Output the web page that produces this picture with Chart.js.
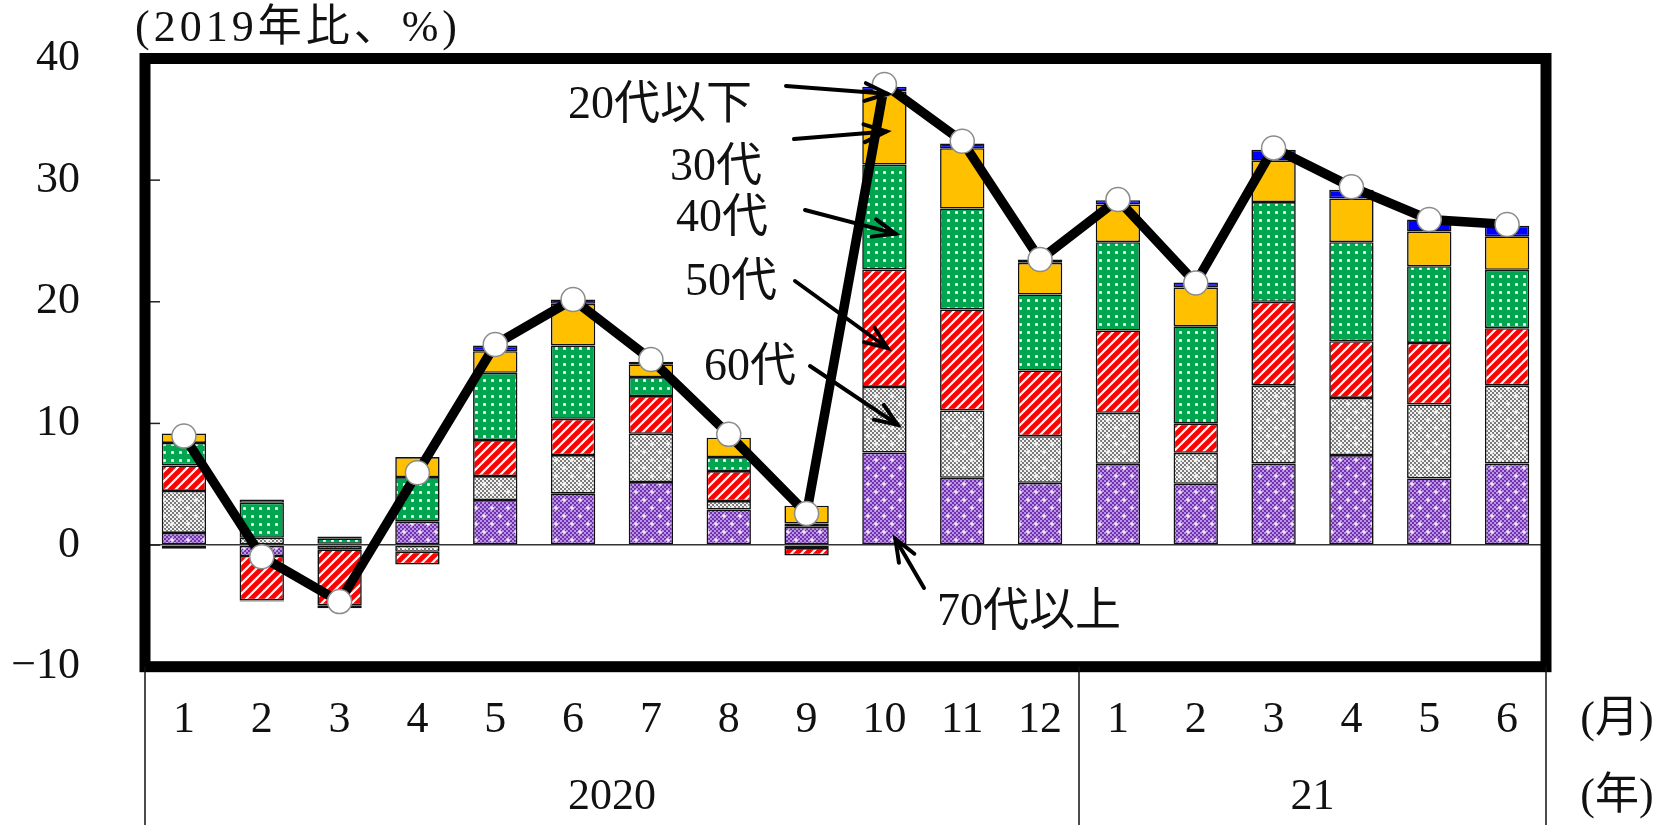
<!DOCTYPE html>
<html><head><meta charset="utf-8">
<script src="https://cdn.jsdelivr.net/npm/chart.js@4/dist/chart.umd.min.js"></script>
<style>html,body{margin:0;padding:0;background:#fff;}#wrap{width:1665px;height:825px;position:relative;}</style>
</head><body><div id="wrap"><canvas id="c" width="1665" height="825"></canvas></div>
<script>
// ---- data ----
const months = ['1','2','3','4','5','6','7','8','9','10','11','12','1','2','3','4','5','6'];
const yearLabels = ['2020','21'];
const yearStarts = [0, 12];
const yearEnds = [11, 17];
const seriesNames = ['70代以上','60代','50代','40代','30代','20代以下'];
const age70 = [1.0, -0.9, 0.1, 1.92, 3.7, 4.25, 5.18, 2.93, 1.5, 7.6, 5.53, 5.12, 6.68, 5.04, 6.7, 7.4, 5.48, 6.7];
const age60 = [3.45, 0.6, -0.35, -0.55, 1.97, 3.15, 3.97, 0.69, -0.25, 5.4, 5.54, 3.83, 4.19, 2.54, 6.4, 4.7, 6.08, 6.43];
const age50 = [2.1, -3.65, -4.6, -1.04, 2.96, 2.98, 3.1, 2.46, -0.6, 9.65, 8.3, 5.4, 6.77, 2.4, 6.9, 4.66, 5.06, 4.7];
const age40 = [1.85, 2.88, 0.45, 3.67, 5.53, 6.03, 1.56, 1.15, 0.27, 8.63, 8.3, 6.25, 7.26, 8.0, 8.2, 8.14, 6.3, 4.8];
const age30 = [0.78, 0.27, -0.25, 1.64, 1.78, 3.42, 1.05, 1.59, 1.46, 6.0, 4.95, 2.6, 3.1, 3.2, 3.4, 3.6, 2.85, 2.75];
const age20 = [-0.3, -0.1, 0.15, 0, 0.46, 0.36, 0.2, 0, 0, 0.4, 0.4, 0.27, 0.35, 0.4, 0.9, 0.7, 1.0, 0.87];
const total = [8.96, -0.96, -4.65, 5.94, 16.49, 20.19, 15.26, 9.1, 2.6, 37.86, 33.2, 23.47, 28.4, 21.55, 32.65, 29.45, 26.76, 26.35];
const yMin = -10, yMax = 40, yStep = 10;
const unitLabel = '(2019年比、%)';
const monthUnit = '(月)';
const yearUnit = '(年)';
// annotations: label, arrow tip at (category index, value)
const noteLabels = ['20代以下','30代','40代','50代','60代','70代以上'];
const noteCategory = [9, 9, 9, 9, 9, 9];
const noteTipValue = [37.1, 34.0, 25.6, 16.2, 9.9, 0.5];

// ---- styling ----
const FONT = '"Liberation Serif", "Noto Sans CJK JP", serif';
const canvas = document.getElementById('c');
const mainCtx = canvas.getContext('2d');
function tile(w, h, draw) {
  const c = document.createElement('canvas'); c.width = w; c.height = h;
  const g = c.getContext('2d'); draw(g, w, h);
  return mainCtx.createPattern(c, 'repeat');
}
function starTile(bg, dot) {
  return tile(16, 16, (g) => {
    g.fillStyle = bg; g.fillRect(0, 0, 16, 16);
    g.fillStyle = dot;
    for (let y = 0; y < 16; y += 2) for (let x = (y % 4 === 0 ? 0 : 2); x < 16; x += 4) g.fillRect(x, y, 2, 2);
    g.fillStyle = '#fff';
    [[4, 4], [12, 12]].forEach(([cx, cy]) => { g.fillRect(cx - 2.5, cy - 0.6, 5, 1.2); g.fillRect(cx - 0.6, cy - 2.5, 1.2, 5); });
  });
}
const purplePat = starTile('#7330AE', '#B994E3');
const grayPat = starTile('#f2f2f2', '#7a7a7a');
const redPat = tile(10, 10, (g) => {
  g.fillStyle = '#fff'; g.fillRect(0, 0, 10, 10);
  g.strokeStyle = '#ff0000'; g.lineWidth = 4.8;
  [[-5, 5, 5, -5], [0, 10, 10, 0], [5, 15, 15, 5]].forEach(([a, b, c, d]) => { g.beginPath(); g.moveTo(a, b); g.lineTo(c, d); g.stroke(); });
});
const greenPat = tile(8, 8, (g) => {
  g.fillStyle = '#00A550'; g.fillRect(0, 0, 8, 8);
  g.fillStyle = '#9fe0b8'; g.fillRect(3, 3, 3, 3);
  g.fillStyle = '#ffffff'; g.fillRect(3.5, 3.5, 2, 2);
});
const fills = [purplePat, grayPat, redPat, greenPat, '#FFC000', '#0000FF'];
const seriesData = [age70, age60, age50, age40, age30, age20];

const barSets = seriesData.map((d, i) => ({
  type: 'bar', label: seriesNames[i], data: d, backgroundColor: fills[i],
  borderColor: '#111', borderWidth: 1.6, borderSkipped: false,
  barPercentage: 0.57, categoryPercentage: 1.0, stack: 'ages', order: 1
}));
const lineSet = {
  type: 'line', label: '合計', data: total, borderColor: '#000', borderWidth: 9.5,
  pointRadius: 12, pointBackgroundColor: '#fff', pointBorderColor: '#8c8c8c', pointBorderWidth: 1.5,
  tension: 0, stack: 'total', order: 0
};

function arrow(g, x1, y1, x2, y2) {
  g.beginPath(); g.moveTo(x1, y1); g.lineTo(x2, y2); g.stroke();
  const a = Math.atan2(y2 - y1, x2 - x1), L = 24, s = 0.38;
  g.beginPath();
  g.moveTo(x2 - L * Math.cos(a - s), y2 - L * Math.sin(a - s));
  g.lineTo(x2, y2);
  g.lineTo(x2 - L * Math.cos(a + s), y2 - L * Math.sin(a + s));
  g.stroke();
}

const noteTextPos = [[660, 106], [716, 168], [722, 219], [731, 283], [750, 368], [1029, 613]];
const noteTail = [[786, 86], [794, 139], [805, 210], [795, 281], [810, 366], [924, 588]];
const noteTipDx = [3, 2, 11, 3, 13, 11];

const decor = {
  id: 'decor',
  afterDatasetsDraw(chart) {
    const g = chart.ctx, a = chart.chartArea, ys = chart.scales.y;
    g.save();
    g.strokeStyle = '#222'; g.lineWidth = 1.5;
    for (let v = yMin; v <= yMax; v += yStep) {
      const y = ys.getPixelForValue(v);
      g.beginPath(); g.moveTo(a.left + 5, y); g.lineTo(a.left + 15, y); g.stroke();
    }
    g.strokeStyle = '#000'; g.lineWidth = 11;
    g.strokeRect(a.left, a.top, a.right - a.left, a.bottom - a.top);
    g.restore();
  },
  afterDraw(chart) {
    const g = chart.ctx, a = chart.chartArea, xs = chart.scales.x, ys = chart.scales.y;
    g.save();
    g.fillStyle = '#111';
    g.font = '44px ' + FONT;
    g.textBaseline = 'middle';
    g.textAlign = 'left';
    g.letterSpacing = '4px';
    g.fillText(unitLabel, 135, 29);
    g.letterSpacing = '0px';
    const half = (xs.getPixelForValue(1) - xs.getPixelForValue(0)) / 2;
    const seps = [a.left, xs.getPixelForValue(yearStarts[1]) - half, a.right];
    g.strokeStyle = '#111'; g.lineWidth = 1.5;
    seps.forEach(x => { g.beginPath(); g.moveTo(x, a.bottom); g.lineTo(x, chart.height); g.stroke(); });
    g.textAlign = 'center';
    yearLabels.forEach((t, i) => {
      const x = (xs.getPixelForValue(yearStarts[i]) + xs.getPixelForValue(yearEnds[i])) / 2;
      g.fillText(t, x, 797);
    });
    g.fillText(monthUnit, 1617, 720);
    g.fillText(yearUnit, 1617, 797);
    g.font = '46px ' + FONT;
    noteLabels.forEach((t, i) => {
      g.fillText(t, noteTextPos[i][0], noteTextPos[i][1]);
      const tx = xs.getPixelForValue(noteCategory[i]) + noteTipDx[i];
      const ty = ys.getPixelForValue(noteTipValue[i]);
      g.strokeStyle = '#000'; g.lineWidth = 4; g.lineCap = 'round';
      arrow(g, noteTail[i][0], noteTail[i][1], tx, ty);
    });
    g.restore();
  }
};

Chart.defaults.font.family = FONT;
Chart.defaults.color = '#111';
new Chart(canvas, {
  type: 'bar',
  data: { labels: months, datasets: [...barSets, lineSet] },
  options: {
    responsive: false, animation: false, events: [],
    layout: { padding: { top: 58.5, right: 119, left: 0, bottom: 0 } },
    plugins: { legend: { display: false }, tooltip: { enabled: false }, title: { display: false } },
    scales: {
      x: {
        stacked: true, offset: true,
        grid: { display: false, drawTicks: false }, border: { display: false },
        ticks: { font: { size: 44 }, color: '#111', padding: 27, autoSkip: false, maxRotation: 0 },
        afterFit: s => { s.height = 158.3; }
      },
      y: {
        stacked: true, min: yMin, max: yMax,
        grid: { drawTicks: true, tickLength: 65, tickColor: 'rgba(0,0,0,0)', lineWidth: 1.5,
          color: c => (c.tick && c.tick.value === 0) ? '#333' : 'rgba(0,0,0,0)' },
        border: { display: false },
        ticks: { stepSize: yStep, font: { size: 44 }, color: '#111', padding: 0,
          callback: v => v < 0 ? '\u2212' + Math.abs(v) : String(v) },
        afterFit: s => { s.width = 145; }
      }
    }
  },
  plugins: [decor]
});
</script></body></html>
